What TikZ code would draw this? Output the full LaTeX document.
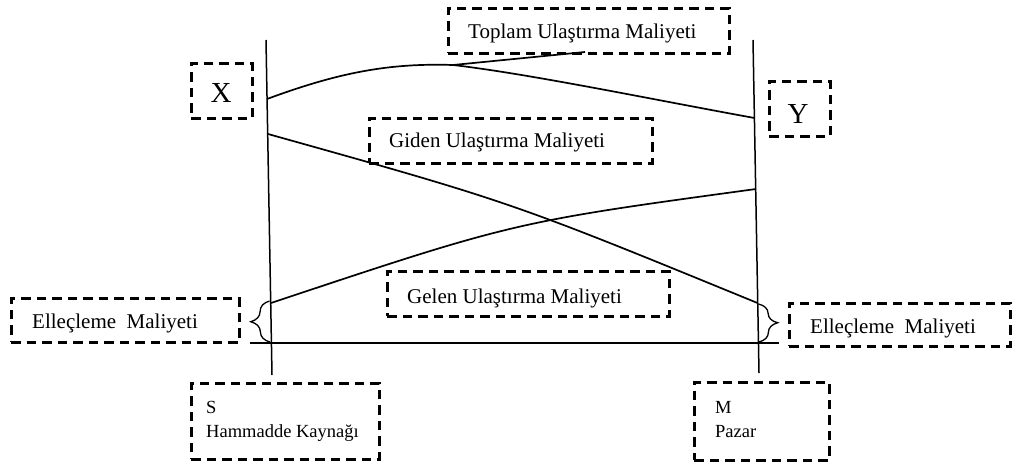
\documentclass[tikz,border=0pt]{standalone}
\usepackage{fontspec}
\setmainfont{Liberation Serif}
\usetikzlibrary{decorations.pathreplacing}
\begin{document}
\begin{tikzpicture}[x=1pt,y=-1pt,
  dbox/.style={draw, line width=2.5pt, dash pattern=on 9.5pt off 6pt, inner sep=0pt, anchor=north west},
  lbl/.style={inner sep=0pt, anchor=base west, font=\fontsize{21}{25}\selectfont},
  small/.style={lbl, font=\fontsize{18.5}{22}\selectfont},
  axis/.style={line width=1.5pt},
  cost/.style={line width=1.7pt},
  brc/.style={line width=1.3pt, decorate, decoration={brace, amplitude=19pt}}]
\useasboundingbox (0,0) rectangle (1014,466);

% dashed label boxes
\node[dbox, minimum width=281pt, minimum height=45pt] (toplambox) at (447,7) {};
\node[dbox, minimum width=61pt, minimum height=55pt] (xbox) at (190,62) {};
\node[dbox, minimum width=61pt, minimum height=55pt] (ybox) at (768,80) {};
\node[dbox, minimum width=283pt, minimum height=45pt] (gidenbox) at (368,117) {};
\node[dbox, minimum width=282pt, minimum height=45pt] (gelenbox) at (386,270) {};
\node[dbox, minimum width=228pt, minimum height=44pt] (ellelbox) at (10,297) {};
\node[dbox, minimum width=221pt, minimum height=43pt] (ellerbox) at (788,302) {};
\node[dbox, minimum width=188pt, minimum height=76pt] (sbox) at (190,382) {};
\node[dbox, minimum width=135pt, minimum height=78pt] (mbox) at (693,381) {};

% texts
\node[lbl] (toplamtxt) at (468,38) {Toplam Ulaştırma Maliyeti};
\node[lbl] (gidentxt) at (389,147) {Giden Ulaştırma Maliyeti};
\node[lbl] (gelentxt) at (407,303) {Gelen Ulaştırma Maliyeti};
\node[lbl] (elleltxt) at (32,328) {Elleçleme\ \ Maliyeti};
\node[lbl] (ellertxt) at (810,333) {Elleçleme\ \ Maliyeti};
\node[lbl, anchor=base, font=\fontsize{29}{34}\selectfont] (xtxt) at (221,102) {X};
\node[lbl, anchor=base, font=\fontsize{29}{34}\selectfont] (ytxt) at (798,123) {Y};
\node[small] (stxt) at (206,413) {S};
\node[small] (skaytxt) at (206,437) {Hammadde Kaynağı};
\node[small] (mtxt) at (715,413) {M};
\node[small] (pazartxt) at (715,437) {Pazar};

% location axes and base line
\coordinate (Ltop) at (266,40);
\coordinate (Lbot) at (272,375);
\coordinate (Rtop) at (753,40);
\coordinate (Rbot) at (759,373);
\coordinate (b0) at (250,343);
\coordinate (b1) at (779,343);
\draw[axis] (Ltop) -- (Lbot);
\draw[axis] (Rtop) -- (Rbot);
\draw[axis] (b0) -- (b1);

% cost curves
\coordinate (t0) at (267,99);
\coordinate (t1) at (453,65);
\coordinate (t2) at (754.5,118);
\coordinate (tp) at (585,52);
\draw[cost] (t0) .. controls (340,72) and (390,63) .. (t1)
  .. controls (530,74) and (650,99) .. (t2);
\draw[cost] (t1) -- (tp);

\coordinate (g0) at (268,134);
\coordinate (g1) at (757.5,303);
\draw[cost] (g0) .. controls (511,202) .. (g1);

\coordinate (e0) at (271,303);
\coordinate (e1) at (756,189);
\draw[cost] (e0) .. controls (514,222) .. (e1);

% handling cost braces
\coordinate (bl0) at (270,342);
\coordinate (bl1) at (269.5,301);
\coordinate (br0) at (758.5,304);
\coordinate (br1) at (759,342);
\draw[brc] (bl0) -- (bl1);
\draw[brc] (br0) -- (br1);
\end{tikzpicture}
\end{document}
